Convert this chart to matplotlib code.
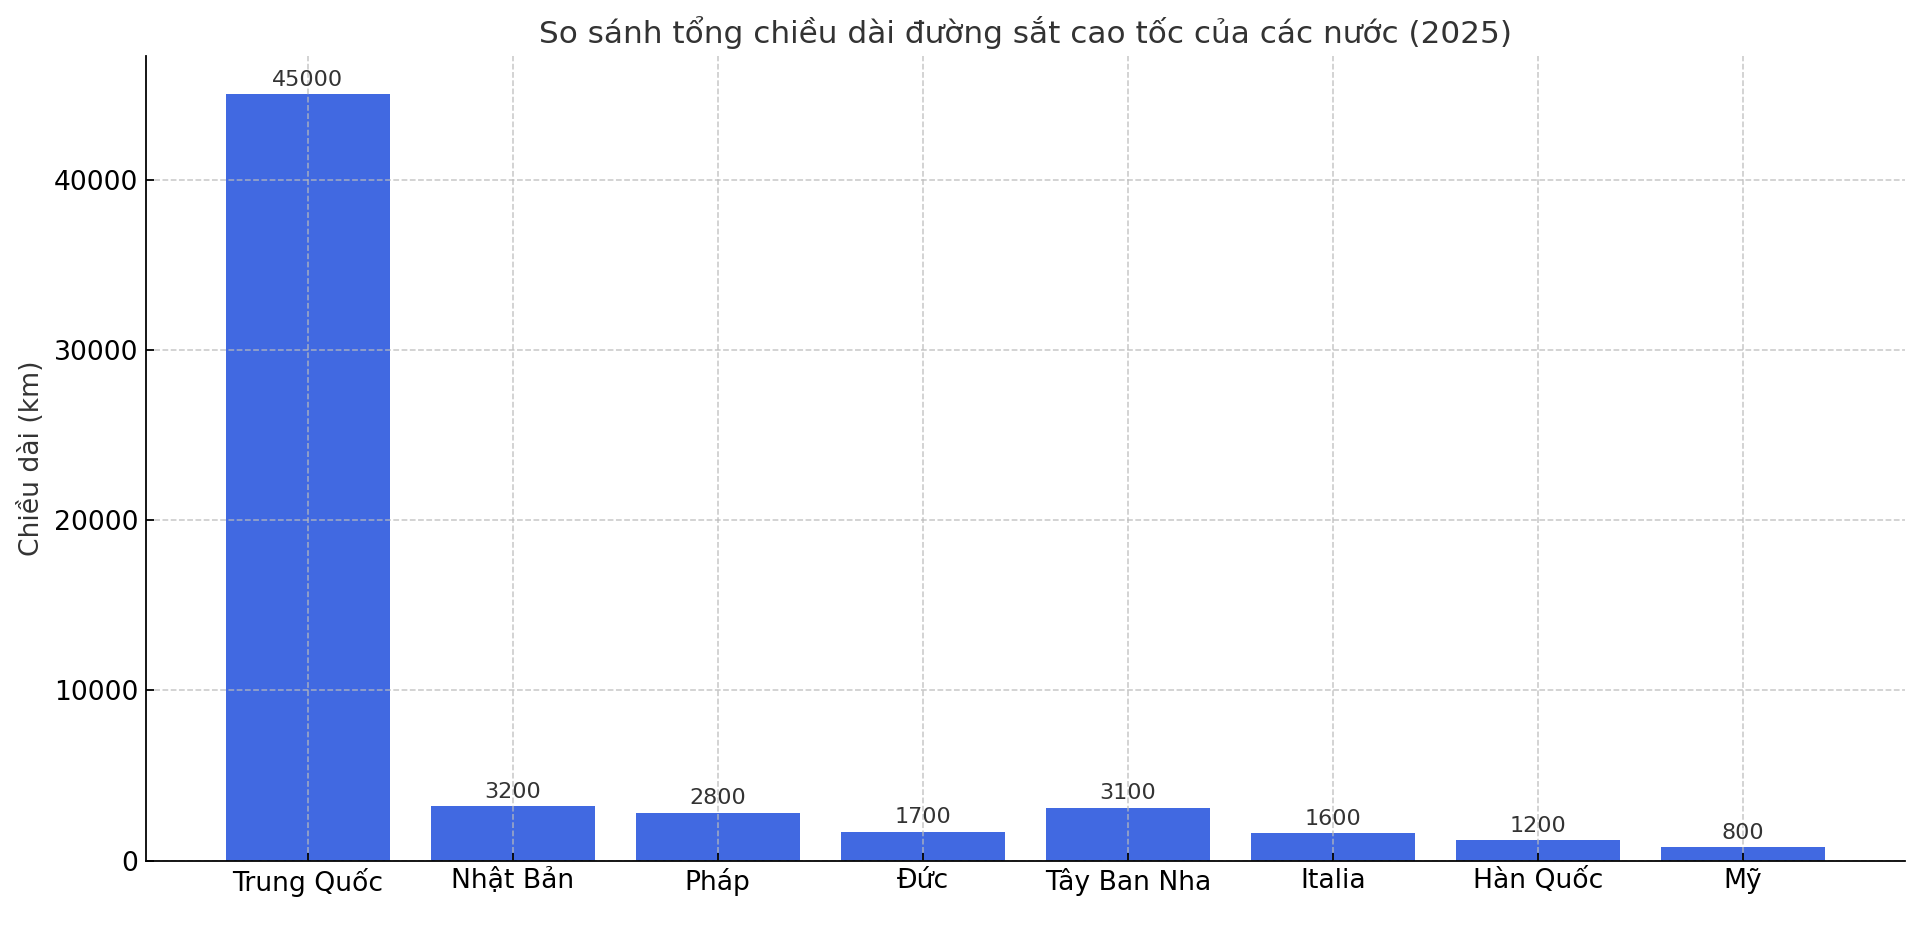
import matplotlib
matplotlib.use("Agg")
import matplotlib.pyplot as plt

# data
countries = ["Trung Quốc", "Nhật Bản", "Pháp", "Đức", "Tây Ban Nha", "Italia", "Hàn Quốc", "Mỹ"]
lengths_km = [45000, 3200, 2800, 1700, 3100, 1600, 1200, 800]

plt.rcParams['font.family'] = ['DejaVu Sans']

fig, ax = plt.subplots(figsize=(12, 5.95), dpi=160)
fig.subplots_adjust(left=0.076, right=0.992, top=0.941, bottom=0.096)

bars = ax.bar(countries, lengths_km, color='royalblue', zorder=2)
ax.bar_label(bars, labels=[str(v) for v in lengths_km], padding=2, fontsize=10, color='#333333')

ax.set_title("So sánh tổng chiều dài đường sắt cao tốc của các nước (2025)", fontsize=14, color='#333333')
ax.set_ylabel("Chiều dài (km)", fontsize=12, color='#333333')
ax.tick_params(axis='both', direction='in', labelsize=12)

ax.grid(True, linestyle='--', color='#bbbbbb', linewidth=0.7, alpha=0.8, zorder=3)
ax.set_axisbelow(False)
ax.spines['top'].set_visible(False)
ax.spines['right'].set_visible(False)
for s in ('left', 'bottom'):
    ax.spines[s].set_zorder(5)

fig.savefig("out.png", dpi=160)
